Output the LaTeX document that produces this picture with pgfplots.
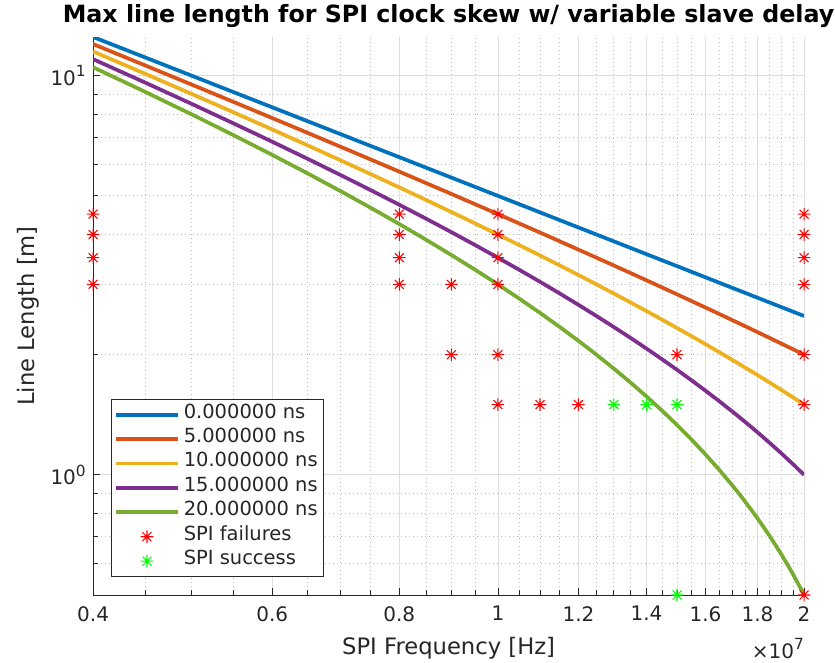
\documentclass[border=0pt]{standalone}
\usepackage{fontspec}
\setmainfont{DejaVu Sans}
\usepackage{pgfplots}
\pgfplotsset{compat=1.18}
\usepackage{pgfplotstable}
\definecolor{c1}{rgb}{0,0.447,0.741}
\definecolor{c2}{rgb}{0.85,0.325,0.098}
\definecolor{c3}{rgb}{0.929,0.694,0.125}
\definecolor{c4}{rgb}{0.494,0.184,0.556}
\definecolor{c5}{rgb}{0.466,0.674,0.188}
\definecolor{axgray}{rgb}{0.15,0.15,0.15}
\definecolor{majgrid}{rgb}{0.87,0.87,0.87}
\definecolor{mingrid}{rgb}{0.74,0.74,0.74}

\newcommand{\supx}[1]{\raisebox{0.42em}{\fontsize{11.5}{12}\selectfont #1}}

\pgfdeclareplotmark{ast8}{%
  \pgfpathmoveto{\pgfqpoint{-\pgfplotmarksize}{0pt}}%
  \pgfpathlineto{\pgfqpoint{\pgfplotmarksize}{0pt}}%
  \pgfpathmoveto{\pgfqpoint{0pt}{-\pgfplotmarksize}}%
  \pgfpathlineto{\pgfqpoint{0pt}{\pgfplotmarksize}}%
  \pgfpathmoveto{\pgfqpoint{-0.7071\pgfplotmarksize}{-0.7071\pgfplotmarksize}}%
  \pgfpathlineto{\pgfqpoint{0.7071\pgfplotmarksize}{0.7071\pgfplotmarksize}}%
  \pgfpathmoveto{\pgfqpoint{-0.7071\pgfplotmarksize}{0.7071\pgfplotmarksize}}%
  \pgfpathlineto{\pgfqpoint{0.7071\pgfplotmarksize}{-0.7071\pgfplotmarksize}}%
  \pgfusepathqstroke}

\pgfplotsset{
  lineleg/.style={legend image code/.code={\draw[##1] (0pt,0pt) -- (47pt,0pt);}},
  markleg/.style={legend image code/.code={\draw[mark repeat=2, mark phase=2, ##1] plot coordinates {(0pt,0pt) (23.5pt,0pt) (47pt,0pt)};}},
}

\pgfplotstableread{
f       L0      L5      L10     L15     L20
4e6     12.5    12.0    11.5    11.0    10.5
4.5e6   11.1111 10.6111 10.1111 9.6111  9.1111
5e6     10.0    9.5     9.0     8.5     8.0
5.5e6   9.0909  8.5909  8.0909  7.5909  7.0909
6e6     8.3333  7.8333  7.3333  6.8333  6.3333
6.5e6   7.6923  7.1923  6.6923  6.1923  5.6923
7e6     7.1429  6.6429  6.1429  5.6429  5.1429
7.5e6   6.6667  6.1667  5.6667  5.1667  4.6667
8e6     6.25    5.75    5.25    4.75    4.25
8.5e6   5.8824  5.3824  4.8824  4.3824  3.8824
9e6     5.5556  5.0556  4.5556  4.0556  3.5556
9.5e6   5.2632  4.7632  4.2632  3.7632  3.2632
1e7     5.0     4.5     4.0     3.5     3.0
1.05e7  4.7619  4.2619  3.7619  3.2619  2.7619
1.1e7   4.5455  4.0455  3.5455  3.0455  2.5455
1.15e7  4.3478  3.8478  3.3478  2.8478  2.3478
1.2e7   4.1667  3.6667  3.1667  2.6667  2.1667
1.25e7  4.0     3.5     3.0     2.5     2.0
1.3e7   3.8462  3.3462  2.8462  2.3462  1.8462
1.35e7  3.7037  3.2037  2.7037  2.2037  1.7037
1.4e7   3.5714  3.0714  2.5714  2.0714  1.5714
1.45e7  3.4483  2.9483  2.4483  1.9483  1.4483
1.5e7   3.3333  2.8333  2.3333  1.8333  1.3333
1.55e7  3.2258  2.7258  2.2258  1.7258  1.2258
1.6e7   3.125   2.625   2.125   1.625   1.125
1.65e7  3.0303  2.5303  2.0303  1.5303  1.0303
1.7e7   2.9412  2.4412  1.9412  1.4412  0.9412
1.725e7 2.8986  2.3986  1.8986  1.3986  0.8986
1.75e7  2.8571  2.3571  1.8571  1.3571  0.8571
1.775e7 2.8169  2.3169  1.8169  1.3169  0.8169
1.8e7   2.7778  2.2778  1.7778  1.2778  0.7778
1.825e7 2.7397  2.2397  1.7397  1.2397  0.7397
1.85e7  2.7027  2.2027  1.7027  1.2027  0.7027
1.875e7 2.6667  2.1667  1.6667  1.1667  0.6667
1.9e7   2.6316  2.1316  1.6316  1.1316  0.6316
1.925e7 2.5974  2.0974  1.5974  1.0974  0.5974
1.95e7  2.5641  2.0641  1.5641  1.0641  0.5641
1.975e7 2.5316  2.0316  1.5316  1.0316  0.5316
2e7     2.5     2.0     1.5     1.0     0.5
}\curves

\pgfplotstableread{
f     L
4e6   4.5
4e6   4
4e6   3.5
4e6   3
8e6   4.5
8e6   4
8e6   3.5
8e6   3
9e6   3
9e6   2
1e7   4.5
1e7   4
1e7   3.5
1e7   3
1e7   2
1e7   1.5
1.1e7 1.5
1.2e7 1.5
1.5e7 2
2e7   4.5
2e7   4
2e7   3.5
2e7   3
2e7   2
2e7   1.5
2e7   0.5
}\failures

\pgfplotstableread{
f     L
1.3e7 1.5
1.4e7 1.5
1.5e7 1.5
1.5e7 0.5
}\successes

\begin{document}
\begin{tikzpicture}
\useasboundingbox (-69.75pt,-50.25pt) rectangle (556.5pt,446.25pt);
\begin{axis}[
  at={(0pt,0pt)}, anchor=south west,
  width=533.25pt, height=418.5pt, scale only axis,
  clip mode=individual,
  xmode=log, ymode=log,
  xmin=4e6, xmax=2e7, ymin=0.5, ymax=12.5,
  axis x line*=bottom, axis y line*=left,
  axis line style={axgray, line width=0.6pt, -},
  xtick={4e6,6e6,8e6,1e7,1.2e7,1.4e7,1.6e7,1.8e7,2e7},
  xticklabels={0.4,0.6,0.8,1,1.2,1.4,1.6,1.8,2},
  minor xtick={4.5e6,5e6,5.5e6,6.5e6,7e6,7.5e6,8.5e6,9e6,9.5e6,1.05e7,1.1e7,1.15e7,1.25e7,1.3e7,1.35e7,1.45e7,1.5e7,1.55e7,1.65e7,1.7e7,1.75e7,1.85e7,1.9e7,1.95e7},
  ytick={1,10},
  yticklabels={10\supx{0},10\supx{1}},
  minor ytick={0.6,0.7,0.8,0.9,2,3,4,5,6,7,8,9},
  tick align=inside,
  major tick length=5pt, minor tick length=3.5pt,
  every tick/.style={axgray, line width=0.6pt},
  grid=both,
  major grid style={majgrid, line width=0.6pt, solid},
  minor grid style={mingrid, line width=0.6pt, dash pattern=on 0.75pt off 2.25pt},
  ticklabel style={font=\fontsize{15}{18}\selectfont, text=axgray},
  xticklabel style={yshift=-5pt},
  yticklabel style={xshift=-2pt},
  xlabel={SPI Frequency [Hz]},
  ylabel={Line Length [m]},
  xlabel style={font=\fontsize{17}{20}\selectfont, text=axgray, at={(axis description cs:0.5,-0.095)}, anchor=center},
  ylabel style={font=\fontsize{17}{20}\selectfont, text=axgray, at={(axis description cs:-0.091,0.5)}, anchor=center},
  title={Max line length for SPI clock skew w/ variable slave delay},
  title style={font=\bfseries\fontsize{17.8}{20}\selectfont, at={(axis description cs:0.5,1.0115)}, anchor=base, inner sep=0pt},
  legend style={at={(0.025,0.032)}, anchor=south west, font=\fontsize{14.6}{17}\selectfont, text=axgray,
    draw=axgray, line width=0.6pt, fill=white, inner xsep=1.9pt, inner ysep=5.2pt,
    nodes={inner ysep=1.5pt, inner xsep=2.7pt, text depth=0.25em, text height=0.75em}, row sep=5.3pt},
  legend cell align=left,
]
\addplot[c1, line width=2.8pt, lineleg] table[x=f, y=L0] {\curves};
\addlegendentry{0.000000 ns}
\addplot[c2, line width=2.8pt, lineleg] table[x=f, y=L5] {\curves};
\addlegendentry{5.000000 ns}
\addplot[c3, line width=2.8pt, lineleg] table[x=f, y=L10] {\curves};
\addlegendentry{10.000000 ns}
\addplot[c4, line width=2.8pt, lineleg] table[x=f, y=L15] {\curves};
\addlegendentry{15.000000 ns}
\addplot[c5, line width=2.8pt, lineleg] table[x=f, y=L20] {\curves};
\addlegendentry{20.000000 ns}
\addplot[only marks, mark=ast8, mark size=4.7pt, red, line width=0.8pt, markleg, clip=false]
  table[x=f, y=L] {\failures};
\addlegendentry{SPI failures}
\addplot[only marks, mark=ast8, mark size=4.7pt, green, line width=0.8pt, markleg, clip=false]
  table[x=f, y=L] {\successes};
\addlegendentry{SPI success}
\node[anchor=base east, font=\fontsize{15}{18}\selectfont, text=axgray, inner sep=0pt] at (axis description cs:1.0,-0.113) {×10\supx{7}};
\end{axis}
\end{tikzpicture}
\end{document}
